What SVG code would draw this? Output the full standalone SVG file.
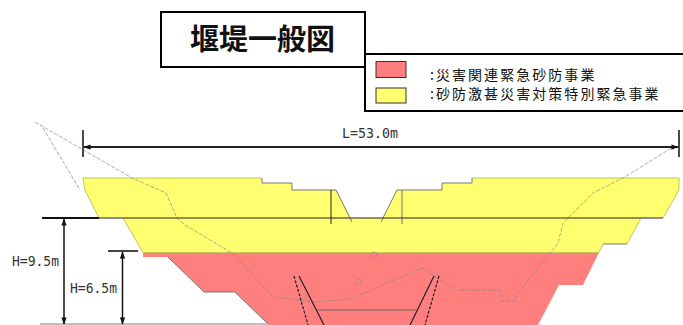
<svg xmlns="http://www.w3.org/2000/svg" width="683" height="325" viewBox="0 0 683 325">
<style>
.cjk{font-family:"Noto Sans CJK JP","Liberation Sans",sans-serif;fill:#111}
.dim{font-family:"DejaVu Sans Mono","Liberation Mono",monospace;font-size:14.500px;fill:#333}
.ground{fill:none;stroke:#888;stroke-width:.7;stroke-dasharray:4 1.5}
.edge{fill:none;stroke:#777;stroke-width:1}
.olive{fill:none;stroke:#c4c45a;stroke-width:1}
.slit{fill:none;stroke:#222;stroke-width:1.2}
.box{fill:#fff;stroke:#000;stroke-width:2}
.swatch{stroke:#333;stroke-width:1}
</style>
<defs>
<marker id="a" viewBox="0 0 8 8" refX="7.500" refY="4" markerWidth="8" markerHeight="7" markerUnits="userSpaceOnUse" orient="auto-start-reverse"><path d="M0 1 L8 4 L0 7 Z" fill="#111"/></marker>
</defs>
<g id="dam-red">
<path d="M143 252.500H599L583 285H559L538 325H269L235 292H204L168 257H143Z" fill="#ff7f7f"/>
<path class="edge" stroke="#a05050" d="M168 257L204 292H235L269 325"/>
</g>
<g id="dam-yellow">
<path d="M83 178H262V183H292V190H336L351 218H382L397 190H442V183H472V178H679V190L663 218H641L627 244H603L599 252.500H143L123 218H99L85 190Z" fill="#ffff70"/>
<path class="olive" d="M83 178H262M472 178H679V190L663 218M641 218L627 244M603 244L599 252.500H143L123 218M99 218L85 190L83 178"/>
<path class="edge" d="M262 178V183H292V190H336L352 222M381 222L397 190H442V183H472V178M627 244H603"/>
</g>
<g id="ground-line">
<path class="ground" d="M35 122L132 178L166 193L177 218L185 225L232 253L273 297L313 302L350 299L383 285L422 268L455 289M460 290H500L502 301H515L518 293L558 243L563 223L573 213L593 193L625 177L673 147"/>
<path class="ground" d="M43 128L80 190"/>
<circle class="ground" cx="374" cy="255" r="3" stroke-dasharray="2 1"/>
<circle class="ground" cx="359" cy="282" r="3" stroke-dasharray="2 1"/>
</g>
<g id="dam-body">
<path class="slit" d="M299 276L324 325M434 276L410 325"/>
<path class="slit" stroke-dasharray="3 1.500" d="M294 276L308 325M439 276L425 325"/>
<path d="M317 310H416" fill="none" stroke="#666" stroke-width="1"/>
<path d="M331 190V224" fill="none" stroke="#222" stroke-width="1"/>
<path d="M402 190V224" fill="none" stroke="#777" stroke-width="1"/>
</g>
<g id="connectors">
<path d="M42 218H99" stroke="#111" stroke-width="2" fill="none"/>
<path d="M99 218H663" stroke="#222" stroke-width="1" fill="none"/>
<path d="M108 251H138" stroke="#444" stroke-width="2" fill="none"/>
<path d="M40 324H269" stroke="#aaa" stroke-width="1.500" fill="none"/>
<path d="M83 130V157M679 130V157" stroke="#111" stroke-width="1.500" fill="none"/>
<path d="M84 147H678" stroke="#222" stroke-width="2" fill="none" marker-start="url(#a)" marker-end="url(#a)"/>
<path d="M64 219V324" stroke="#111" stroke-width="1.500" fill="none" marker-start="url(#a)" marker-end="url(#a)"/>
<path d="M122.500 252V324" stroke="#111" stroke-width="1.500" fill="none" marker-start="url(#a)" marker-end="url(#a)"/>
</g>
<g id="dim-labels">
<text class="dim" x="342" y="138" textLength="56" lengthAdjust="spacingAndGlyphs">L=53.0m</text>
<text class="dim" x="12" y="266" textLength="47" lengthAdjust="spacingAndGlyphs">H=9.5m</text>
<text class="dim" x="70" y="293" textLength="47" lengthAdjust="spacingAndGlyphs">H=6.5m</text>
</g>
<g id="title">
<rect class="box" x="161" y="12" width="204" height="55"/>
<text class="cjk" x="190" y="50" font-size="29" font-weight="700">堰堤一般図</text>
</g>
<g id="legend">
<rect class="box" x="365" y="54" width="319" height="57"/>
<rect class="swatch" x="376" y="61.500" width="30" height="16" fill="#ff7f7f"/>
<rect class="swatch" x="376" y="88" width="30" height="15" fill="#ffff70"/>
<text class="cjk" x="430" y="80" font-size="14" letter-spacing="2.050">:災害関連緊急砂防事業</text>
<text class="cjk" x="430" y="99" font-size="14" letter-spacing="2.050">:砂防激甚災害対策特別緊急事業</text>
</g>
</svg>
